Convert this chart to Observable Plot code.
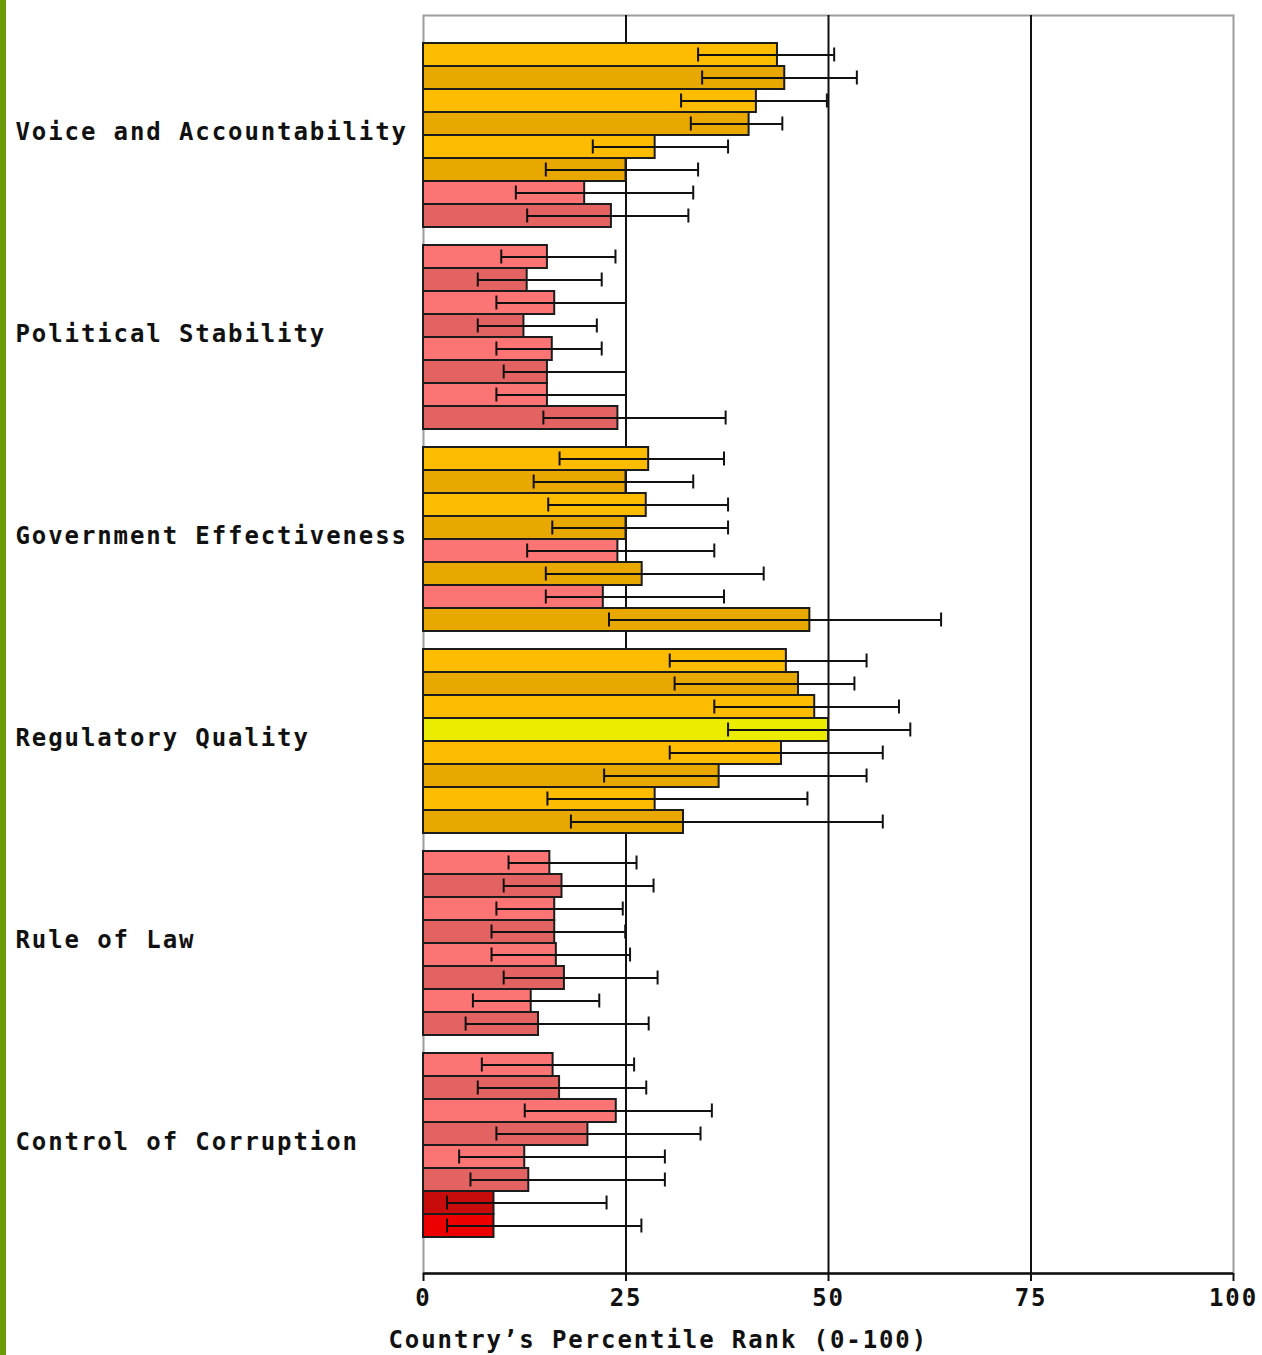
<!DOCTYPE html>
<html>
<head>
<meta charset="utf-8">
<script src="https://cdn.jsdelivr.net/npm/d3@7"></script>
<script src="https://cdn.jsdelivr.net/npm/@observablehq/plot@0.6"></script>
<style>
  html, body { margin: 0; padding: 0; background: #fff; }
  #wrap { position: relative; width: 1262px; height: 1355px; overflow: hidden; }
  #edge { position: absolute; left: 0; top: 0; width: 6px; height: 100%; background: #6b9b0b; }
  #chart svg { display: block; }
</style>
</head>
<body>
<div id="wrap"><div id="chart"></div><div id="edge"></div></div>
<script>
// Worldwide governance indicators: percentile rank (0-100) with margins of error,
// eight estimates per indicator, listed top to bottom.
const indicators = [
  "Voice and Accountability",
  "Political Stability",
  "Government Effectiveness",
  "Regulatory Quality",
  "Rule of Law",
  "Control of Corruption"
];

const percentileRank = [
  [43.7, 44.6, 41.1, 40.2, 28.6, 25.0, 19.9, 23.2],
  [15.3, 12.8, 16.2, 12.4, 15.9, 15.3, 15.3, 24.0],
  [27.8, 25.0, 27.5, 25.0, 24.0, 27.0, 22.2, 47.7],
  [44.8, 46.3, 48.3, 50.0, 44.2, 36.5, 28.6, 32.1],
  [15.6, 17.1, 16.2, 16.2, 16.4, 17.4, 13.3, 14.2],
  [16.0, 16.8, 23.8, 20.3, 12.5, 13.0, 8.7, 8.7]
];

const lowerBound = [
  [33.9, 34.4, 31.8, 33.0, 20.9, 15.1, 11.4, 12.8],
  [9.6, 6.7, 9.0, 6.7, 9.0, 9.9, 9.0, 14.8],
  [16.8, 13.6, 15.4, 15.9, 12.8, 15.1, 15.1, 22.9],
  [30.4, 31.0, 35.9, 37.6, 30.4, 22.3, 15.3, 18.2],
  [10.5, 9.9, 9.0, 8.4, 8.4, 9.9, 6.1, 5.2],
  [7.2, 6.7, 12.5, 9.0, 4.4, 5.8, 2.9, 2.9]
];

const upperBound = [
  [50.7, 53.5, 49.8, 44.3, 37.6, 33.9, 33.3, 32.7],
  [23.7, 22.0, 25.0, 21.4, 22.0, 25.0, 25.0, 37.3],
  [37.1, 33.3, 37.6, 37.6, 35.9, 42.0, 37.1, 63.9],
  [54.7, 53.2, 58.7, 60.1, 56.7, 54.7, 47.4, 56.7],
  [26.3, 28.4, 24.6, 24.9, 25.5, 28.9, 21.7, 27.8],
  [26.0, 27.5, 35.6, 34.2, 29.8, 29.8, 22.6, 26.9]
];

const xTicks = [0, 25, 50, 75, 100];
const xTitle = "Country\u2019s Percentile Rank (0-100)";

// Fill by percentile band, with alternating rows in a lighter / darker shade
const bandThresholds = [10, 25, 50, 75];
const bandShades = [
  ["#c80c0c", "#ec0000"],   // 0-10
  ["#fd7474", "#e36262"],   // 10-25
  ["#fdbc00", "#e9a800"],   // 25-50
  ["#f4f400", "#ecec00"],   // 50-75
  ["#8fd14f", "#7cc03c"]    // 75-100
];
const shadeFor = (v, i) => bandShades[d3.bisectRight(bandThresholds, v)][i % 2];

// Vertical layout in row units: 8 touching bars per indicator, a gap between groups
const rowsPerGroup = 8;
const groupGap = 18 / 23;
const groupPitch = rowsPerGroup + groupGap;
const padTop = 28 / 23;
const padBottom = 36 / 23;
const yTop = -padTop;
const yBottom = (indicators.length - 1) * groupPitch + rowsPerGroup + padBottom;
const capHalf = 7 / 23;

const rows = indicators.flatMap((name, g) =>
  percentileRank[g].map((v, i) => ({
    name, g, i,
    rank: v,
    lo: lowerBound[g][i],
    hi: upperBound[g][i],
    row: g * groupPitch + i,
    fill: shadeFor(v, i)
  }))
);

const font = "'DejaVu Sans Mono', 'Liberation Mono', monospace";
const fontSize = 24;

const chart = Plot.plot({
  width: 1262,
  height: 1355,
  marginLeft: 423,
  marginRight: 29,
  marginTop: 15,
  marginBottom: 82,
  style: {fontFamily: font, fontWeight: "bold", fontSize: fontSize + "px", letterSpacing: "1.9px", color: "#111", background: "#fff"},
  x: {domain: [0, 100]},
  y: {domain: [yTop, yBottom], reverse: true, axis: null},
  color: {type: "identity"},
  marks: [
    Plot.frame({stroke: "#9c9c9c", strokeWidth: 2}),
    Plot.ruleX([25, 50, 75], {stroke: "#111", strokeWidth: 2}),
    Plot.rectX(rows, {
      x1: 0, x2: "rank",
      y1: "row", y2: d => d.row + 1,
      fill: "fill", stroke: "#1c1c1c", strokeWidth: 2
    }),
    Plot.ruleY(rows, {y: d => d.row + 0.5, x1: "lo", x2: "hi", stroke: "#111", strokeWidth: 2}),
    Plot.ruleX(rows, {x: "lo", y1: d => d.row + 0.5 - capHalf, y2: d => d.row + 0.5 + capHalf, stroke: "#111", strokeWidth: 2}),
    Plot.ruleX(rows, {x: "hi", y1: d => d.row + 0.5 - capHalf, y2: d => d.row + 0.5 + capHalf, stroke: "#111", strokeWidth: 2}),
    Plot.ruleY([yBottom], {stroke: "#111", strokeWidth: 2.5}),
    Plot.axisX({
      ticks: xTicks, tickFormat: d => String(d), tickSize: 8, tickPadding: 7,
      stroke: "#111", strokeWidth: 2, label: null,
      fontSize, fontWeight: "bold", fontFamily: font, fill: "#111"
    }),
    Plot.text(indicators, {
      y: (d, g) => g * groupPitch + rowsPerGroup / 2,
      text: d => d,
      frameAnchor: "left", textAnchor: "start", dx: -408, dy: -3,
      fontSize, fontWeight: "bold", fontFamily: font, fill: "#111"
    }),
    Plot.text([xTitle], {
      text: d => d,
      frameAnchor: "bottom-left", textAnchor: "start", dx: -35, dy: 74,
      fontSize, fontWeight: "bold", fontFamily: font, fill: "#111"
    })
  ]
});

document.getElementById("chart").appendChild(chart);
</script>
</body>
</html>
